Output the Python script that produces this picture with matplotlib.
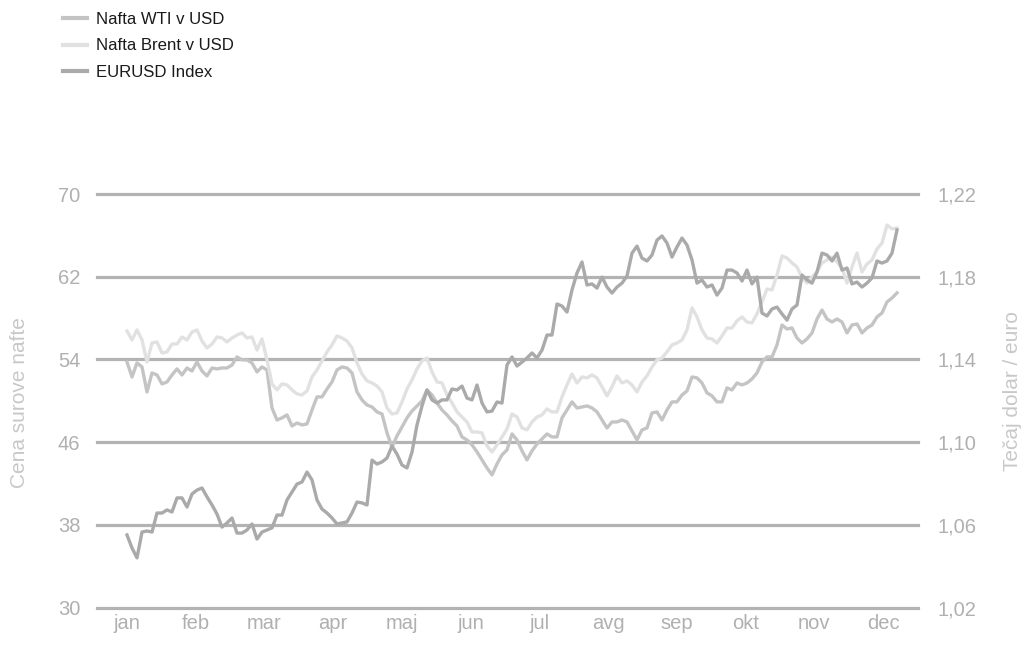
import numpy as np
import matplotlib
matplotlib.use("Agg")
import matplotlib.pyplot as plt
from matplotlib.ticker import FuncFormatter

plt.rcParams['font.family'] = ['Liberation Sans', 'DejaVu Sans']

months = ['jan', 'feb', 'mar', 'apr', 'maj', 'jun', 'jul', 'avg', 'sep', 'okt', 'nov', 'dec']
left_ticks = [30, 38, 46, 54, 62, 70]
right_ticks = [1.02, 1.06, 1.10, 1.14, 1.18, 1.22]
series_names = ['Nafta WTI v USD', 'Nafta Brent v USD', 'EURUSD Index']

wti = [53.75, 52.30, 53.66, 53.27, 50.85, 52.69, 52.50, 51.63, 51.82, 52.50,
       53.08, 52.50, 53.17, 52.88, 53.75, 52.88, 52.40, 53.17, 53.08, 53.17,
       53.17, 53.46, 54.24, 53.95, 53.95, 53.66, 52.79, 53.27, 52.98, 49.30,
       48.14, 48.34, 48.63, 47.56, 47.85, 47.66, 47.76, 49.11, 50.37, 50.37,
       51.14, 51.82, 52.98, 53.27, 53.17, 52.69, 50.85, 50.08, 49.59, 49.40,
       48.92, 48.72, 46.89, 45.53, 46.60, 47.47, 48.34, 49.01, 49.50, 49.98,
       51.05, 50.56, 49.79, 49.11, 48.63, 48.05, 47.56, 46.50, 46.21, 45.73,
       45.05, 44.28, 43.50, 42.83, 43.89, 44.76, 45.24, 46.79, 46.21, 45.15,
       44.28, 45.15, 45.82, 46.31, 46.79, 46.50, 46.50, 48.34, 49.11, 49.89,
       49.30, 49.40, 49.50, 49.30, 48.92, 48.14, 47.37, 47.95, 47.95, 48.14,
       47.95, 47.08, 46.21, 47.18, 47.37, 48.82, 48.92, 48.14, 49.11, 49.89,
       49.89, 50.56, 50.95, 52.30, 52.21, 51.72, 50.76, 50.47, 49.89, 49.89,
       51.24, 51.05, 51.72, 51.53, 51.72, 52.11, 52.69, 53.75, 54.24, 54.24,
       55.40, 57.33, 56.94, 57.04, 56.07, 55.59, 55.98, 56.56, 57.91, 58.78,
       57.91, 57.62, 57.91, 57.62, 56.56, 57.33, 57.43, 56.56, 57.04, 57.33,
       58.11, 58.49, 59.56, 59.94, 60.43]

brent = [56.75, 55.88, 56.85, 55.88, 53.75, 55.59, 55.69, 54.62, 54.72, 55.49,
         55.49, 56.17, 55.88, 56.65, 56.85, 55.78, 55.11, 55.49, 56.17, 56.07,
         55.69, 56.07, 56.36, 56.56, 56.07, 56.17, 54.91, 55.98, 53.95, 51.63,
         51.05, 51.63, 51.53, 51.05, 50.66, 50.56, 50.95, 52.30, 52.98, 53.85,
         54.72, 55.40, 56.27, 56.07, 55.78, 55.11, 53.66, 52.59, 51.92, 51.72,
         51.43, 50.85, 49.30, 48.72, 48.82, 49.89, 51.14, 52.01, 53.08, 53.85,
         54.14, 52.79, 51.82, 51.72, 50.56, 49.79, 48.92, 48.43, 47.95, 46.98,
         46.98, 46.89, 45.63, 45.05, 45.73, 46.50, 47.27, 48.72, 48.43, 47.37,
         47.18, 47.95, 48.43, 48.63, 49.21, 48.92, 48.92, 50.37, 51.53, 52.59,
         51.72, 52.30, 52.21, 52.50, 52.21, 51.34, 50.47, 51.34, 52.40, 51.72,
         51.92, 51.53, 50.85, 51.82, 52.40, 53.27, 53.95, 54.14, 54.72, 55.40,
         55.59, 55.88, 56.85, 58.98, 58.11, 56.85, 56.07, 55.98, 55.59, 56.27,
         57.04, 57.04, 57.72, 58.11, 57.62, 57.53, 58.40, 59.56, 60.81, 60.72,
         62.17, 64.00, 63.81, 63.33, 62.94, 61.88, 61.39, 61.97, 62.46, 63.33,
         63.62, 63.91, 63.42, 62.84, 61.39, 62.94, 64.29, 62.46, 63.23, 63.62,
         64.68, 65.26, 67.00, 66.62, 66.71]

eurusd = [1.0551, 1.0488, 1.0440, 1.0565, 1.0570, 1.0565, 1.0657, 1.0657, 1.0672, 1.0662,
          1.0730, 1.0730, 1.0686, 1.0749, 1.0768, 1.0778, 1.0735, 1.0696, 1.0652, 1.0589,
          1.0609, 1.0633, 1.0560, 1.0560, 1.0575, 1.0604, 1.0531, 1.0565, 1.0575, 1.0585,
          1.0647, 1.0647, 1.0720, 1.0759, 1.0797, 1.0807, 1.0855, 1.0817, 1.0720, 1.0676,
          1.0657, 1.0633, 1.0604, 1.0609, 1.0614, 1.0657, 1.0710, 1.0706, 1.0696, 1.0913,
          1.0894, 1.0904, 1.0923, 1.0981, 1.0942, 1.0889, 1.0875, 1.0952, 1.1083, 1.1175,
          1.1252, 1.1204, 1.1189, 1.1204, 1.1204, 1.1257, 1.1252, 1.1271, 1.1213, 1.1204,
          1.1276, 1.1189, 1.1146, 1.1150, 1.1194, 1.1189, 1.1373, 1.1412, 1.1368, 1.1387,
          1.1407, 1.1431, 1.1407, 1.1445, 1.1518, 1.1518, 1.1668, 1.1658, 1.1629, 1.1736,
          1.1818, 1.1871, 1.1760, 1.1765, 1.1745, 1.1798, 1.1750, 1.1721, 1.1750, 1.1769,
          1.1803, 1.1914, 1.1948, 1.1890, 1.1876, 1.1905, 1.1977, 1.1997, 1.1963, 1.1895,
          1.1944, 1.1987, 1.1953, 1.1881, 1.1769, 1.1784, 1.1750, 1.1760, 1.1711, 1.1745,
          1.1832, 1.1832, 1.1818, 1.1779, 1.1832, 1.1765, 1.1798, 1.1624, 1.1610, 1.1644,
          1.1653, 1.1620, 1.1590, 1.1644, 1.1663, 1.1808, 1.1784, 1.1769, 1.1823, 1.1914,
          1.1905, 1.1876, 1.1914, 1.1832, 1.1842, 1.1765, 1.1774, 1.1750, 1.1769, 1.1794,
          1.1876, 1.1866, 1.1876, 1.1914, 1.2026]

W, H = 1027, 648
fig = plt.figure(figsize=(W / 100, H / 100), dpi=100)
ax = fig.add_axes([97 / W, 1 - 607.5 / H, (918 - 97) / W, (607.5 - 194) / H])
ax2 = ax.twinx()

x = np.arange(len(wti))
grid_c = '#b3b3b3'
tick_c = '#b0b0b0'
title_c = '#c8c8c8'

for v in left_ticks:
    ax.axhline(v, color=grid_c, lw=2.3, clip_on=False, zorder=0)

l1, = ax.plot(x, wti, color='#c4c4c4', lw=2.4, solid_joinstyle='round', zorder=2)
l2, = ax.plot(x, brent, color='#e1e1e1', lw=2.4, solid_joinstyle='round', zorder=3)
l3, = ax2.plot(x, eurusd, color='#aaaaaa', lw=2.4, solid_joinstyle='round', zorder=3)

ax.set_xlim(-6, len(wti) - 1 + 4.2)
ax.set_ylim(left_ticks[0], left_ticks[-1])
ax2.set_ylim(right_ticks[0], right_ticks[-1])

ax.set_yticks(left_ticks)
ax.set_yticklabels([str(v) for v in left_ticks])
ax2.set_yticks(right_ticks)
ax2.yaxis.set_major_formatter(FuncFormatter(lambda v, p: f"{v:.2f}".replace('.', ',')))

month_pos = np.linspace(0, 151.2, len(months))
ax.set_xticks(month_pos)
ax.set_xticklabels(months)

for a in (ax, ax2):
    for s in a.spines.values():
        s.set_visible(False)
    a.tick_params(length=0, labelsize=14.5, colors=tick_c)
ax.tick_params(axis='y', pad=12)
ax2.tick_params(axis='y', pad=14)
ax.tick_params(axis='x', pad=5)

fig.text(20 / W, 1 - 403 / H, 'Cena surove nafte', rotation=90, ha='center', va='center',
         color=title_c, fontsize=15)
fig.text(1012 / W, 1 - 391 / H, 'Tečaj dolar / euro', rotation=90, ha='center', va='center',
         color=title_c, fontsize=15)

leg = fig.legend([l1, l2, l3], series_names, loc='upper left',
                 bbox_to_anchor=(63 / W, 1 - 12 / H), frameon=False, fontsize=12.1,
                 handlelength=1.43, handletextpad=0.55, labelspacing=0.68,
                 borderpad=0, borderaxespad=0)
for t in leg.get_texts():
    t.set_color('#1a1a1a')
for h in leg.legend_handles:
    h.set_linewidth(3.0)

fig.savefig('out.png', dpi=100)
